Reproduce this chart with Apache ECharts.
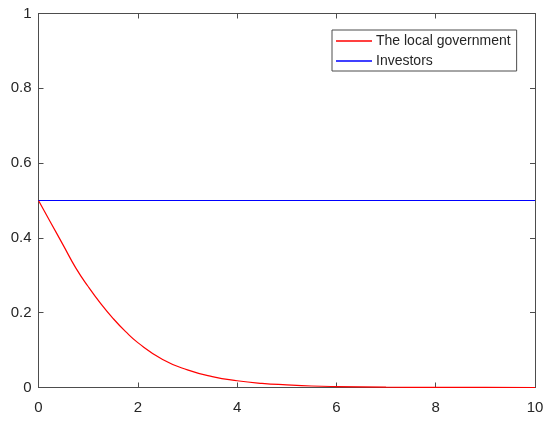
<!DOCTYPE html>
<html>
<head>
<meta charset="utf-8">
<script src="https://cdn.jsdelivr.net/npm/echarts@6/dist/echarts.min.js"></script>
<style>
  html, body { margin: 0; padding: 0; background: #fff; }
  #chart { width: 550px; height: 422px; }
</style>
</head>
<body>
<div id="chart"></div>
<script>
// time steps and values
const timeSteps = [0, 0.25, 0.5, 0.75, 1, 1.25, 1.5, 1.75, 2, 2.5, 3, 3.5, 4, 4.5, 5, 5.5, 6, 7, 8, 9, 10];
const localGov = [0.5, 0.44, 0.38, 0.32, 0.27, 0.225, 0.185, 0.15, 0.12, 0.075, 0.047, 0.029, 0.018, 0.011, 0.007, 0.004, 0.0025, 0.001, 0.0003, 0.0001, 0];
const investorTimes = [0, 10];
const investors = [0.5, 0.5];
const seriesNames = ['The local government', 'Investors'];

const axisColor = '#4d4d4d';
const textColor = '#262626';

const chart = echarts.init(document.getElementById('chart'));

const baseAxis = {
  axisLine: { show: true, onZero: false, lineStyle: { color: axisColor, width: 1 } },
  axisTick: { show: true, inside: true, length: 5, lineStyle: { color: axisColor } },
  splitLine: { show: false }
};

chart.setOption({
  backgroundColor: '#fff',
  animation: false,
  grid: { left: 38.5, right: 15, top: 13.5, bottom: 34.5 },
  legend: {
    orient: 'vertical',
    left: 332,
    top: 30,
    padding: [4, 6, 3, 4],
    icon: 'rect',
    itemWidth: 36,
    itemHeight: 1.3,
    itemGap: 6,
    backgroundColor: '#fff',
    borderColor: axisColor,
    borderWidth: 1,
    borderRadius: 0,
    textStyle: { fontFamily: 'Liberation Sans, Arial', fontSize: 14, lineHeight: 14, color: textColor, padding: [0, 0, 0, -1] },
    data: seriesNames
  },
  xAxis: [
    Object.assign({}, baseAxis, {
      type: 'value', min: 0, max: 10, interval: 2, position: 'bottom',
      axisLabel: { margin: 13, fontFamily: 'Liberation Sans, Arial', fontSize: 15, color: textColor }
    }),
    Object.assign({}, baseAxis, {
      type: 'value', min: 0, max: 10, interval: 2, position: 'top',
      axisLabel: { show: false }
    })
  ],
  yAxis: [
    Object.assign({}, baseAxis, {
      type: 'value', min: 0, max: 1, interval: 0.2, position: 'left',
      axisLabel: { margin: 7, fontFamily: 'Liberation Sans, Arial', fontSize: 15, color: textColor }
    }),
    Object.assign({}, baseAxis, {
      type: 'value', min: 0, max: 1, interval: 0.2, position: 'right',
      axisLabel: { show: false }
    })
  ],
  series: [
    {
      name: seriesNames[0],
      type: 'line',
      smooth: true,
      symbol: 'none',
      lineStyle: { color: '#ff0000', width: 1.2 },
      itemStyle: { color: '#ff0000' },
      data: timeSteps.map((t, i) => [t, localGov[i]])
    },
    {
      name: seriesNames[1],
      type: 'line',
      symbol: 'none',
      lineStyle: { color: '#0000ff', width: 1.2 },
      itemStyle: { color: '#0000ff' },
      data: investorTimes.map((t, i) => [t, investors[i]])
    }
  ]
});
</script>
</body>
</html>
